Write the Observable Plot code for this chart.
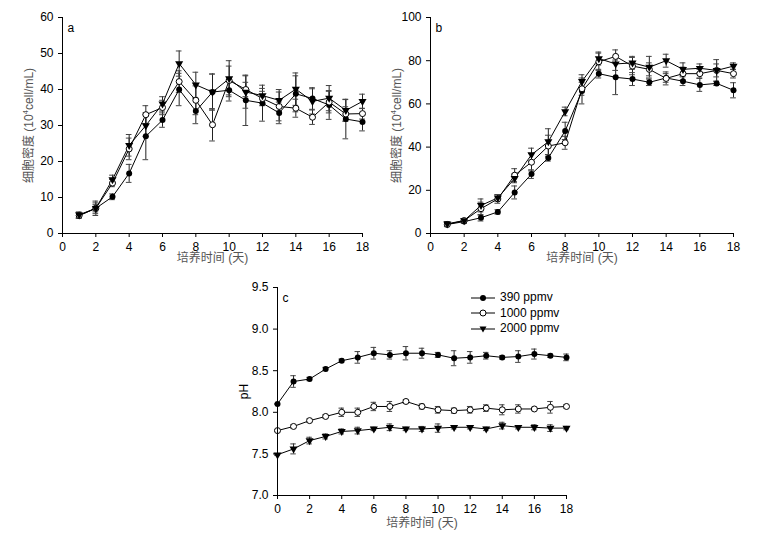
<!DOCTYPE html>
<html><head><meta charset="utf-8">
<script src="https://cdn.jsdelivr.net/npm/d3@7"></script>
<script src="https://cdn.jsdelivr.net/npm/@observablehq/plot@0.6"></script>
<style>
body{margin:0;background:#fff;font-family:"Liberation Sans","Noto Sans CJK SC",sans-serif;}
#wrap{position:relative;width:757px;height:534px;}
.p{position:absolute;}
#legend{position:absolute;left:470px;top:290px;font-size:12px;line-height:15.5px;color:#000;}
#legend div{display:flex;align-items:center;}
#legend svg{margin-right:4px;}
</style></head><body>
<div id="wrap">
<div class="p" id="pa" style="left:0;top:0"></div>
<div class="p" id="pb" style="left:380px;top:0"></div>
<div class="p" id="pc" style="left:220px;top:270px"></div>
<div id="legend">
<div><svg width="26" height="10"><line x1="1" x2="25" y1="5" y2="5" stroke="#000"/><circle cx="13" cy="5" r="3" fill="#000"/></svg>390 ppmv</div>
<div><svg width="26" height="10"><line x1="1" x2="25" y1="5" y2="5" stroke="#000"/><circle cx="13" cy="5" r="3" fill="#fff" stroke="#000"/></svg>1000 ppmv</div>
<div><svg width="26" height="10"><line x1="1" x2="25" y1="5" y2="5" stroke="#000"/><path d="M9.5,2.5L16.5,2.5L13,8.5Z" fill="#000"/></svg>2000 ppmv</div>
</div>
</div>
<script>
const series = ["390 ppmv","1000 ppmv","2000 ppmv"];
const daysAB = d3.range(1,19);
const daysC = d3.range(0,19);
const a390 = [5,7,10.2,16.7,27,31.5,40,34,39.3,39.8,37,36.2,33.5,38.8,37.5,35.7,31.8,31];
const a390e = [0.8,1,0.8,2.5,6.5,2,4.5,3.5,5,3,7,5,3,5,3,4,5.5,2.5];
const a1000 = [5,7,14,23.5,33,35,42.2,37,30.2,42.5,40,37.5,35.3,34.8,32.3,36.5,33.2,33.3];
const a1000e = [0.8,1.5,1,3,2.5,2,3,4,4.5,4,2,2,4,2.5,2,3,2,1.5];
const a2000 = [5.2,7,15,24.5,30,36,47.2,41.3,39.3,43,39.3,38.3,37,40.1,36.7,37.6,34.2,36.7];
const a2000e = [0.8,2,1.2,3,3,2,3.5,3.5,5,5,4.5,2,3,4.5,3.5,3.5,3,2];
const b390 = [4.2,5.5,7.3,10,19,27.5,35,47.5,66,74,72.3,71.5,70,72,70.5,68.8,69.5,66.3];
const b390e = [1,0.8,1.5,1,3,2,1.5,4,6,2,8,3,1.5,2,2,3,1,3.5];
const b1000 = [4.2,6,11.5,16,27,33,40.5,42,67,79.5,82,77.5,76,71.8,74,74,75.5,74];
const b1000e = [1,0.8,3,2,3,4,5,3,3,4,3,4,3,3,3,2,3,2];
const b2000 = [4.5,6,13,16.5,25.5,36.5,42.5,56.5,70.5,81,78.5,79,77,80,76,76.5,75.5,77.5];
const b2000e = [1,0.8,3,1.5,2,3,6,2,3,3,3,3,5,3,3,2,5,1.5];
const c390 = [8.10,8.37,8.40,8.52,8.62,8.66,8.71,8.69,8.71,8.71,8.69,8.65,8.66,8.68,8.66,8.67,8.70,8.68,8.66];
const c390e = [0,0.07,0.02,0.02,0.02,0.07,0.07,0.05,0.08,0.06,0.03,0.09,0.07,0.04,0.02,0.07,0.06,0.02,0.04];
const c1000 = [7.78,7.83,7.90,7.95,8.00,8.00,8.07,8.07,8.13,8.07,8.03,8.02,8.03,8.05,8.03,8.04,8.04,8.06,8.07];
const c1000e = [0.01,0.02,0.02,0.02,0.05,0.05,0.05,0.06,0.02,0.03,0.04,0.03,0.04,0.04,0.06,0.05,0.02,0.07,0.02];
const c2000 = [7.49,7.56,7.66,7.71,7.77,7.78,7.80,7.82,7.80,7.80,7.81,7.82,7.82,7.80,7.84,7.82,7.82,7.81,7.81];
const c2000e = [0.01,0.06,0.04,0.03,0.03,0.04,0.02,0.04,0.02,0.03,0.05,0.02,0.02,0.02,0.04,0.02,0.03,0.04,0.02];

function rows(days, vals, errs){
  const out=[];
  vals.forEach((v,si)=>v.forEach((y,i)=>out.push({s:series[si],x:days[i],y,e:errs[si][i]})));
  return out;
}
const capW = 0.17;
function panel(el, opt){
  const data = rows(opt.days, opt.vals, opt.errs);
  const by = s => data.filter(d=>d.s===s);
  const marks = [
    Plot.ruleX(data,{x:"x",y1:d=>d.y-d.e,y2:d=>d.y+d.e,stroke:"#222",strokeWidth:1}),
    Plot.ruleY(data,{y:d=>d.y+d.e,x1:d=>d.x-capW,x2:d=>d.x+capW,stroke:"#444",strokeWidth:1}),
    Plot.ruleY(data,{y:d=>d.y-d.e,x1:d=>d.x-capW,x2:d=>d.x+capW,stroke:"#444",strokeWidth:1}),
    Plot.line(data,{x:"x",y:"y",z:"s",stroke:"#000",strokeWidth:1}),
    Plot.dot(by(series[0]),{x:"x",y:"y",r:3,fill:"#000",symbol:"circle"}),
    Plot.dot(by(series[1]),{x:"x",y:"y",r:3,fill:"#fff",stroke:"#000",strokeWidth:1,symbol:"circle"}),
    Plot.dot(by(series[2]),{x:"x",y:"y",r:3,fill:"#000",symbol:"triangle",rotate:180}),
    Plot.ruleX([0],{x:()=>opt.xd[0],stroke:"#000"}),
    Plot.ruleY([0],{y:()=>opt.yd[0],stroke:"#000"}),
    Plot.text([opt.letter],{text:d=>d,frameAnchor:"top-left",dx:5,dy:6,fontSize:12,fill:"#000"})
  ];
  const p = Plot.plot({
    width:opt.w,height:opt.h,
    marginLeft:opt.ml,marginRight:opt.mr,marginTop:17,marginBottom:opt.mb,
    style:{fontFamily:'"Liberation Sans","Noto Sans CJK SC",sans-serif',fontSize:"12px",color:"#000",background:"#fff"},
    x:{domain:opt.xd,ticks:opt.xt,tickSize:4,label:"培养时间 (天)",labelAnchor:"center",labelArrow:"none",labelOffset:opt.mb-4},
    y:{domain:opt.yd,ticks:opt.yt,tickSize:4,label:opt.ylab,labelAnchor:"center",labelArrow:"none",labelOffset:opt.lo,tickFormat:opt.tf},
    marks
  });
  p.querySelectorAll("text").forEach(t=>{
    if (t.textContent === "培养时间 (天)") t.setAttribute("fill","#555");
    if (t.textContent === "SUPLABEL") {
      t.setAttribute("fill","#555");
      t.textContent = "";
      const ns="http://www.w3.org/2000/svg";
      const parts=[["细胞密度 (10",null],["4","sup"],["cell/mL)",null]];
      for (const [s,k] of parts){
        const ts=document.createElementNS(ns,"tspan");
        ts.textContent=s;
        if(k){ts.setAttribute("font-size","8");ts.setAttribute("dy","-5");}
        else if(s.startsWith("cell")){ts.setAttribute("dy","5");}
        t.appendChild(ts);
      }
    }
  });
  document.getElementById(el).appendChild(p);
}
panel("pa",{days:daysAB,vals:[a390,a1000,a2000],errs:[a390e,a1000e,a2000e],w:380,h:265,ml:62,mr:18,mb:32,
  xd:[0,18],xt:d3.range(0,19,2),yd:[0,60],yt:d3.range(0,61,10),ylab:"SUPLABEL",lo:38,letter:"a"});
panel("pb",{days:daysAB,vals:[b390,b1000,b2000],errs:[b390e,b1000e,b2000e],w:377,h:265,ml:50,mr:24,mb:32,
  xd:[0,18],xt:d3.range(0,19,2),yd:[0,100],yt:d3.range(0,101,20),ylab:"SUPLABEL",lo:38,letter:"b"});
panel("pc",{days:daysC,vals:[c390,c1000,c2000],errs:[c390e,c1000e,c2000e],w:370,h:260,ml:57,mr:24,mb:35,
  xd:[0,18],xt:d3.range(0,19,2),yd:[7,9.5],yt:d3.range(7,9.51,0.5),ylab:"pH",lo:38,letter:"c",tf:d3.format(".1f")});
</script>
</body></html>
